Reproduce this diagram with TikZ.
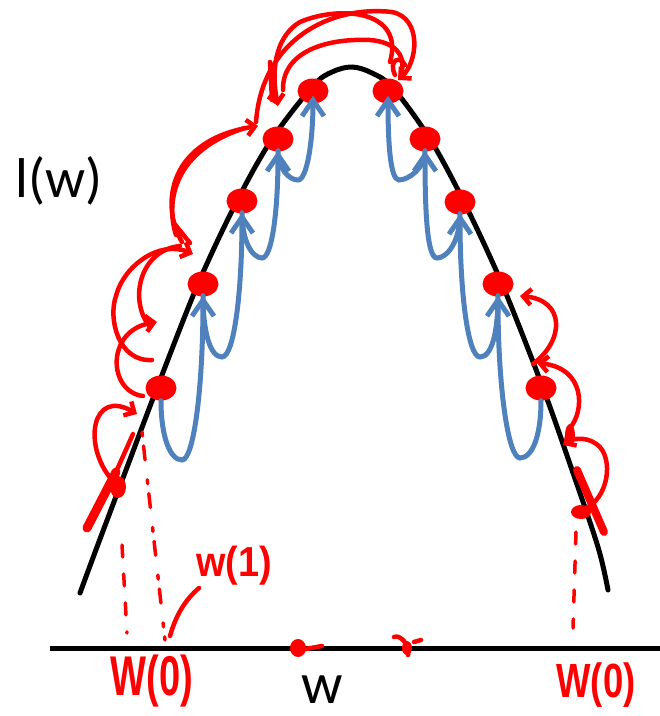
\documentclass[tikz,border=0pt]{standalone}
\usepackage{fontspec}
\setmainfont{Carlito}
\newfontfamily\handfont{Liberation Sans}
\usetikzlibrary{arrows.meta,shapes.geometric,calc}
\definecolor{ppblue}{RGB}{79,129,189}
\definecolor{inkred}{RGB}{255,0,0}
\begin{document}
\begin{tikzpicture}[x=1pt,y=-1pt,
  reddot/.style={ellipse, fill=inkred, minimum width=31pt, minimum height=25pt, inner sep=0pt},
  curveline/.style={line width=5pt, draw=black, line cap=round},
  bluearr/.style={line width=5pt, draw=ppblue, line cap=round, -{Straight Barb[length=16pt,width=22pt]}},
  redline/.style={line width=4.5pt, draw=inkred, line cap=round, line join=round},
  redarr/.style={redline, -{Straight Barb[length=8pt,width=16pt]}},
  reddash/.style={line width=3.5pt, draw=inkred, line cap=round, dash pattern=on 12pt off 17pt},
  handtext/.style={text=inkred, inner sep=0pt}]
\useasboundingbox (0,0) rectangle (660,716);
\fill[white] (0,0) rectangle (660,716);

% main curve and axis
\draw[curveline] plot[smooth, tension=0.55] coordinates {(80,593) (97,547) (126,470) (157,388) (198,284) (237,201) (272,139) (313,86) (332,72) (352,67) (372,73) (393,88) (430,139) (464,202) (502,284) (543,388) (572,470) (598,547) (608,590)};
\draw[line width=5pt] (50,648) -- (660,648);

% texts
\node[anchor=base, inner sep=0pt, font=\fontsize{56}{56}\selectfont] (lw) at (59,197) {l(w)};
\node[anchor=base, inner sep=0pt, font=\fontsize{58}{58}\selectfont] (wlab) at (322,703) {w};

% red dots
\node[reddot] (L1) at (161,388) {};
\node[reddot] (L2) at (203,284) {};
\node[reddot] (L3) at (242,201) {};
\node[reddot] (L4) at (278,139) {};
\node[reddot] (L5) at (313,91) {};
\node[reddot] (R1) at (388,91) {};
\node[reddot] (R2) at (425,139) {};
\node[reddot] (R3) at (460,202) {};
\node[reddot] (R4) at (498,284) {};
\node[reddot] (R5) at (541,388) {};

% blue U arrows (left side, going up)
\coordinate (B1) at (182,460);
\coordinate (B2) at (222,357);
\coordinate (B3) at (262,258);
\coordinate (B4) at (298,180);
\draw[bluearr] (L1.south) .. controls +(0,36) and +(-12,0) .. (B1) .. controls +(12,0) and +(0,90) .. ([yshift=1pt]L2.south);
\draw[bluearr] ([yshift=1pt]L2.south) .. controls +(0,36) and +(-12,0) .. (B2) .. controls +(12,0) and +(0,80) .. ([yshift=1pt]L3.south);
\draw[bluearr] ([yshift=1pt]L3.south) .. controls +(0,28) and +(-10,0) .. (B3) .. controls +(10,0) and +(0,60) .. ([yshift=1pt]L4.south);
\draw[bluearr] ([yshift=1pt]L4.south) .. controls +(0,18) and +(-9,0) .. (B4) .. controls +(9,0) and +(0,45) .. ([yshift=8pt]L5.south);
% blue U arrows (right side)
\coordinate (C1) at (520,458);
\coordinate (C2) at (480,357);
\coordinate (C3) at (437,258);
\coordinate (C4) at (399,180);
\draw[bluearr] (R5.south) .. controls +(0,36) and +(12,0) .. (C1) .. controls +(-12,0) and +(0,90) .. ([yshift=1pt]R4.south);
\draw[bluearr] ([yshift=1pt]R4.south) .. controls +(0,36) and +(12,0) .. (C2) .. controls +(-12,0) and +(0,80) .. ([yshift=1pt]R3.south);
\draw[bluearr] ([yshift=1pt]R3.south) .. controls +(0,28) and +(10,0) .. (C3) .. controls +(-10,0) and +(0,60) .. ([yshift=1pt]R2.south);
\draw[bluearr] ([yshift=1pt]R2.south) .. controls +(0,18) and +(9,0) .. (C4) .. controls +(-9,0) and +(0,45) .. ([yshift=8pt]R1.south);

% red hand annotations: left chain
\coordinate (s0) at (112,480);
\draw[redline, line width=9pt] (87,528) -- (116,472);
\draw[redline] (116,472) -- (133,434);
\fill[inkred] (118,487) ellipse (8pt and 11pt);
\draw[redarr] (s0) .. controls (82,445) and (92,388) .. (137,414);
\draw[redarr] (143,396) .. controls (108,392) and (105,330) .. (157,322);
\draw[redarr] (152,360) .. controls (118,362) and (108,318) .. (116,296) .. controls (124,265) and (160,240) .. (193,254);
\draw[redline] (150,327) .. controls (128,300) and (140,250) .. (180,246);
\draw[redarr] (182,242) .. controls (160,205) and (168,140) .. (258,126);
\draw[redline] (176,235) .. controls (165,200) and (175,150) .. (245,128);
\draw[redline] (173,222) -- (190,243);
% top arcs
\draw[redarr] (256,122) .. controls (262,40) and (330,5) .. (392,12) .. controls (422,18) and (418,62) .. (398,80);
\draw[redline] (283,90) .. controls (282,55) and (320,38) .. (370,40) .. controls (395,42) and (405,55) .. (402,70);
\draw[redarr] (390,62) .. controls (405,10) and (340,5) .. (300,22) .. controls (278,35) and (270,65) .. (278,106);
\draw[redline] (270,62) -- (272,100);
\draw[redline] (395,75) .. controls (388,60) and (400,55) .. (405,65);

% right chain
\draw[redline, line width=8pt] (577,470) -- (604,532);
\fill[inkred] (581,512) ellipse (10pt and 7pt);
\draw[redarr] (580,510) .. controls (605,505) and (615,465) .. (600,447) .. controls (590,437) and (575,437) .. (563,445);
\fill[inkred] (570,435) ellipse (5pt and 11pt);
\draw[redarr] (570,428) .. controls (585,410) and (585,368) .. (537,363);
\draw[redarr] (533,364) .. controls (565,340) and (565,300) .. (520,296);

% dashed drop lines
\coordinate (d1a) at (122,545); \coordinate (d1b) at (127,633);
\coordinate (d2a) at (142,432); \coordinate (d2b) at (165,640);
\coordinate (d3a) at (576,532); \coordinate (d3b) at (573,628);
\draw[reddash] (d1a) -- (d1b);
\draw[reddash, dash pattern=on 4pt off 10pt on 14pt off 20pt] (d2a) -- (d2b);
\draw[reddash] (d3a) -- (d3b);

% axis scribbles
\fill[inkred] (298,648) ellipse (8pt and 9pt);
\draw[redline] (300,650) -- (322,646);
\draw[redline] (394,637) .. controls (400,634) and (410,645) .. (408,655);
\fill[inkred] (407,648) ellipse (5pt and 7pt);
\draw[redline] (414,642) -- (421,640);

% handwritten labels
\node[handtext, font=\handfont\bfseries\fontsize{56}{56}\selectfont] (w0L) at (152,681) {\scalebox{0.68}[1]{W(0)}};
\node[handtext, font=\handfont\bfseries\fontsize{48}{48}\selectfont] (w0R) at (596,685) {\scalebox{0.76}[1]{W(0)}};
\node[handtext, font=\handfont\bfseries\fontsize{42}{42}\selectfont] (w1) at (234,566) {\scalebox{0.9}[1]{w(1)}};
\coordinate (lead) at (170,636);
\draw[redline] (lead) .. controls (176,615) and (185,600) .. (199,588);
\end{tikzpicture}
\end{document}
